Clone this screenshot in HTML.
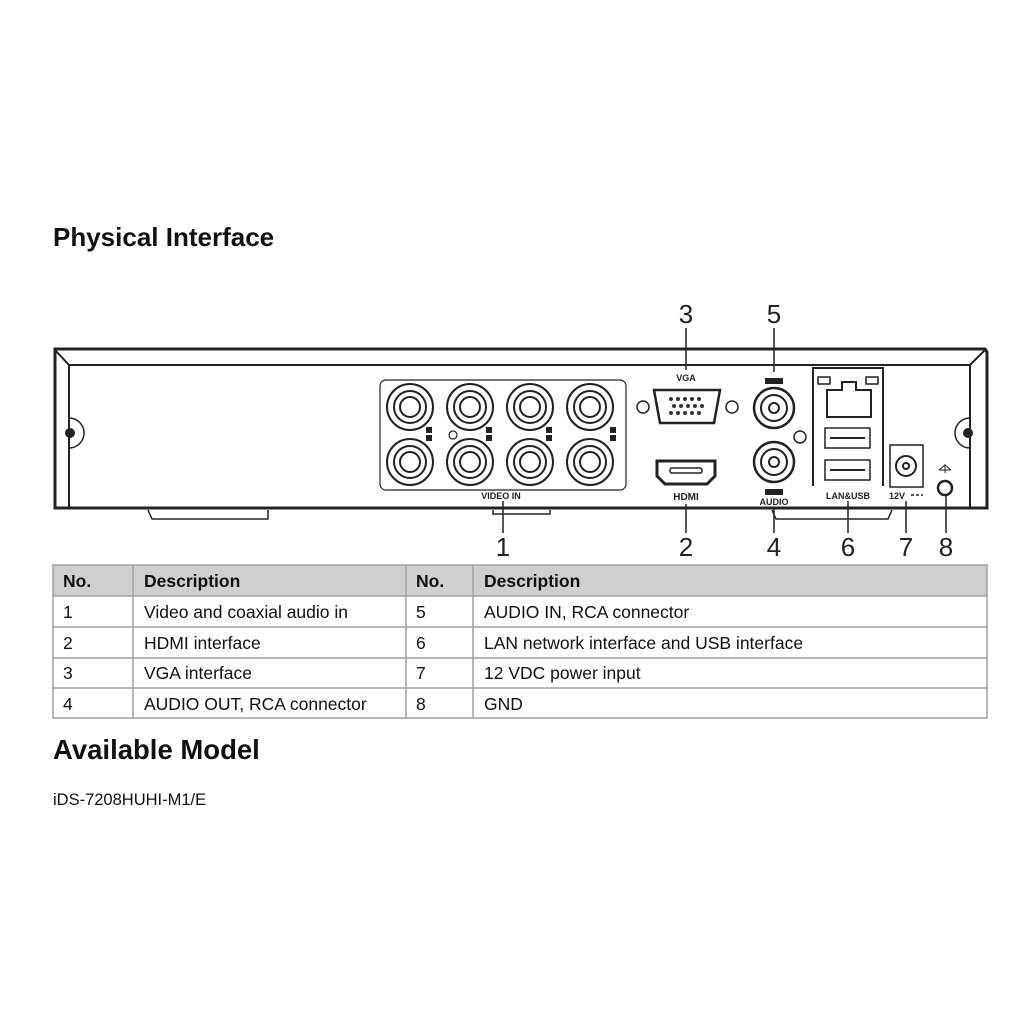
<!DOCTYPE html>
<html><head><meta charset="utf-8"><style>
body{margin:0;background:#fff;width:1024px;height:1024px;overflow:hidden;font-family:"Liberation Sans",sans-serif}
</style></head><body>
<svg width="1024" height="1024" viewBox="0 0 1024 1024" xmlns="http://www.w3.org/2000/svg" style="position:absolute;left:0;top:0">
<text x="53" y="246" font-family="Liberation Sans,sans-serif" font-weight="bold" font-size="26" fill="#111">Physical Interface</text>
<g fill="none" stroke="#222" stroke-width="2">
<path d="M55 349 H985 L987 352 V508 H55 Z" stroke-width="3"/>
<path d="M55 350 L69 365 H970 L985 350" />
<path d="M69 365 V507 M970 365 V507"/>
<path d="M69 418 A14 14 0 0 1 69 448" stroke-width="1.5"/>
<path d="M970 418 A14 14 0 0 0 970 448" stroke-width="1.5"/>
<path d="M148 510 L152 519 H268 V510" stroke-width="1.5"/>
<path d="M493 510 V514 H550 V510" stroke-width="1.5"/>
<path d="M772 510 L776 519 H888 L892 510" stroke-width="1.5"/>
<rect x="380" y="380" width="246" height="110" rx="6" stroke-width="1.2"/>
</g>
<circle cx="70" cy="433" r="5" fill="#222"/><circle cx="968" cy="433" r="5" fill="#222"/>
<g fill="none" stroke="#222" stroke-width="2">
<circle cx="410" cy="407" r="23"/><circle cx="410" cy="407" r="16"/><circle cx="410" cy="407" r="10"/>
<circle cx="470" cy="407" r="23"/><circle cx="470" cy="407" r="16"/><circle cx="470" cy="407" r="10"/>
<circle cx="530" cy="407" r="23"/><circle cx="530" cy="407" r="16"/><circle cx="530" cy="407" r="10"/>
<circle cx="590" cy="407" r="23"/><circle cx="590" cy="407" r="16"/><circle cx="590" cy="407" r="10"/>
<circle cx="410" cy="462" r="23"/><circle cx="410" cy="462" r="16"/><circle cx="410" cy="462" r="10"/>
<circle cx="470" cy="462" r="23"/><circle cx="470" cy="462" r="16"/><circle cx="470" cy="462" r="10"/>
<circle cx="530" cy="462" r="23"/><circle cx="530" cy="462" r="16"/><circle cx="530" cy="462" r="10"/>
<circle cx="590" cy="462" r="23"/><circle cx="590" cy="462" r="16"/><circle cx="590" cy="462" r="10"/>
<circle cx="453" cy="435" r="4" stroke-width="1.2"/>
<circle cx="643" cy="407" r="6" stroke-width="1.5"/><circle cx="732" cy="407" r="6" stroke-width="1.5"/>
<path d="M654 390 H720 L714 423 H660 Z" stroke-width="2.5"/>
<path d="M657 461 H715 V476 L707 484 H665 L657 476 Z" stroke-width="3"/>
<rect x="670" y="468" width="32" height="5" rx="2" stroke-width="1.5"/>
<circle cx="774" cy="408" r="20" stroke-width="2.5"/><circle cx="774" cy="408" r="13"/><circle cx="774" cy="408" r="5"/>
<circle cx="774" cy="462" r="20" stroke-width="2.5"/><circle cx="774" cy="462" r="13"/><circle cx="774" cy="462" r="5"/>
<circle cx="800" cy="437" r="6" stroke-width="1.5"/>
<path d="M813 486 V368 H883 V486" stroke-width="2"/>
<path d="M827 390 H842 V382 H856 V390 H871 V417 H827 Z"/>
<rect x="818" y="377" width="12" height="7" stroke-width="1.5"/><rect x="866" y="377" width="12" height="7" stroke-width="1.5"/>
<rect x="825" y="428" width="45" height="20" stroke-width="1.5"/><path d="M830 438 H865" stroke-width="2"/>
<rect x="825" y="460" width="45" height="20" stroke-width="1.5"/><path d="M830 470 H865" stroke-width="2"/>
<rect x="890" y="445" width="33" height="42" stroke-width="1.5"/>
<circle cx="906" cy="466" r="10"/><circle cx="906" cy="466" r="3"/>
<circle cx="945" cy="488" r="7" stroke-width="2.5"/>
<path d="M939 470 L945 465 L951 470 M945 464 V473 M939 470 H951" stroke-width="1"/>
</g>
<g fill="#222">
<g font-size="9" font-weight="bold" font-family="Liberation Sans,sans-serif" fill="#222">
<text x="686" y="381" text-anchor="middle">VGA</text>
<text x="501" y="499" text-anchor="middle">VIDEO IN</text>
<text x="686" y="500" text-anchor="middle" font-size="10">HDMI</text>
<text x="774" y="505" text-anchor="middle">AUDIO</text>
<text x="848" y="499" text-anchor="middle">LAN&amp;USB</text>
<text x="897" y="499" text-anchor="middle">12V</text>
</g>
<rect x="765" y="378" width="18" height="6"/><rect x="765" y="489" width="18" height="6"/>
<rect x="426" y="427" width="6" height="6"/><rect x="426" y="435" width="6" height="6"/>
<rect x="486" y="427" width="6" height="6"/><rect x="486" y="435" width="6" height="6"/>
<rect x="546" y="427" width="6" height="6"/><rect x="546" y="435" width="6" height="6"/>
<rect x="610" y="427" width="6" height="6"/><rect x="610" y="435" width="6" height="6"/>
<g fill="#333"><circle cx="671" cy="399" r="2"/><circle cx="678" cy="399" r="2"/><circle cx="685" cy="399" r="2"/><circle cx="692" cy="399" r="2"/><circle cx="699" cy="399" r="2"/>
<circle cx="674" cy="406" r="2"/><circle cx="681" cy="406" r="2"/><circle cx="688" cy="406" r="2"/><circle cx="695" cy="406" r="2"/><circle cx="702" cy="406" r="2"/>
<circle cx="671" cy="413" r="2"/><circle cx="678" cy="413" r="2"/><circle cx="685" cy="413" r="2"/><circle cx="692" cy="413" r="2"/><circle cx="699" cy="413" r="2"/></g>
</g>
<g stroke="#222" stroke-width="1.5" fill="none" stroke-dasharray="3 2"><path d="M911 495 H923"/></g>
<g stroke="#222" stroke-width="1.5">
<path d="M686 328 V370 M774 328 V372 M503 501 V533 M686 504 V533 M774 507 V533 M848 501 V533 M906 501 V533 M946 496 V533"/>
</g>
<g font-family="Liberation Sans,sans-serif" font-size="26" fill="#222" text-anchor="middle">
<text x="686" y="323">3</text><text x="774" y="323">5</text>
<text x="503" y="556">1</text><text x="686" y="556">2</text><text x="774" y="556">4</text><text x="848" y="556">6</text><text x="906" y="556">7</text><text x="946" y="556">8</text>
</g>
<rect x="53" y="565" width="934" height="31" fill="#cfcfcf"/>
<g stroke="#a0a0a0" stroke-width="1.5" fill="none">
<rect x="53" y="565" width="934" height="153"/>
<path d="M53 596 H987 M53 627 H987 M53 658 H987 M53 688 H987 M133 565 V718 M406 565 V718 M473 565 V718"/>
</g>
<g font-family="Liberation Sans,sans-serif" font-size="17.5" fill="#111">
<g font-weight="bold"><text x="63" y="587">No.</text><text x="144" y="587">Description</text><text x="416" y="587">No.</text><text x="484" y="587">Description</text></g>
<text x="63" y="618">1</text><text x="144" y="618">Video and coaxial audio in</text><text x="416" y="618">5</text><text x="484" y="618">AUDIO IN, RCA connector</text>
<text x="63" y="649">2</text><text x="144" y="649">HDMI interface</text><text x="416" y="649">6</text><text x="484" y="649">LAN network interface and USB interface</text>
<text x="63" y="679">3</text><text x="144" y="679">VGA interface</text><text x="416" y="679">7</text><text x="484" y="679">12 VDC power input</text>
<text x="63" y="710">4</text><text x="144" y="710">AUDIO OUT, RCA connector</text><text x="416" y="710">8</text><text x="484" y="710">GND</text>
</g>
<text x="53" y="759" font-family="Liberation Sans,sans-serif" font-weight="bold" font-size="27.5" fill="#111">Available Model</text>
<text x="53" y="805" font-family="Liberation Sans,sans-serif" font-size="16.5" fill="#111">iDS-7208HUHI-M1/E</text>
</svg>
</body></html>
